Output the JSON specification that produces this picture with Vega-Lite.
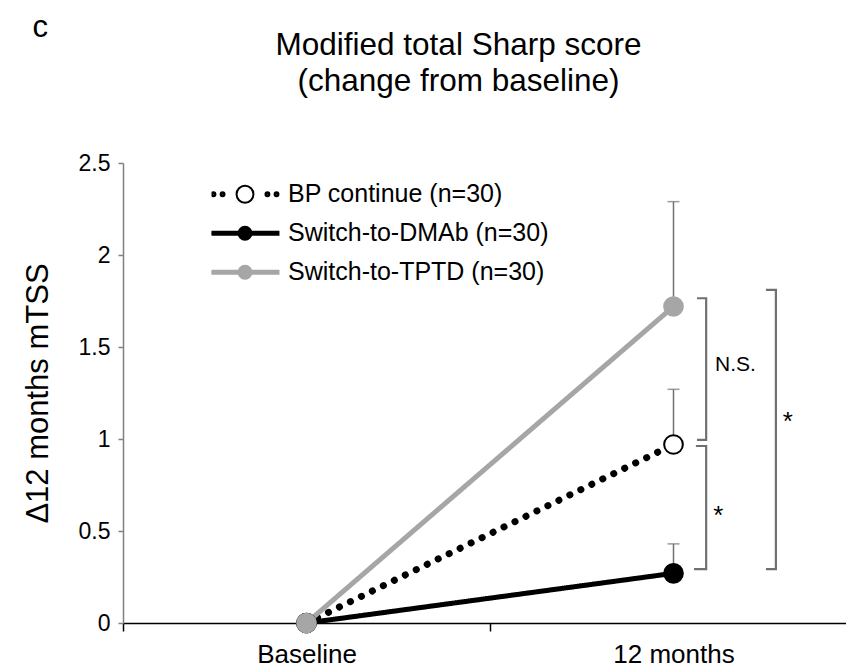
{
  "$schema": "https://vega.github.io/schema/vega-lite/v6.json",
  "autosize": "none",
  "width": 723,
  "height": 460,
  "padding": {"left": 123, "top": 163, "right": 0, "bottom": 44},
  "config": {
    "font": "Liberation Sans",
    "view": {"stroke": null}
  },
  "title": {
    "text": ["Modified total Sharp score", "(change from baseline)"],
    "fontSize": 31.5,
    "fontWeight": "normal",
    "color": "#000000",
    "lineHeight": 35.5,
    "anchor": "middle",
    "dx": -26,
    "offset": -86
  },
  "datasets": {
    "main": [
      {"time": "Baseline", "group": "BP continue (n=30)", "value": 0},
      {"time": "12 months", "group": "BP continue (n=30)", "value": 0.97, "upper": 1.27},
      {"time": "Baseline", "group": "Switch-to-DMAb (n=30)", "value": 0},
      {"time": "12 months", "group": "Switch-to-DMAb (n=30)", "value": 0.27, "upper": 0.43},
      {"time": "Baseline", "group": "Switch-to-TPTD (n=30)", "value": 0},
      {"time": "12 months", "group": "Switch-to-TPTD (n=30)", "value": 1.72, "upper": 2.29}
    ],
    "brackets": [
      {"bracket": "ns", "step": 1, "x": 1.564, "y": 1.765},
      {"bracket": "ns", "step": 2, "x": 1.589, "y": 1.765},
      {"bracket": "ns", "step": 3, "x": 1.589, "y": 0.995},
      {"bracket": "ns", "step": 4, "x": 1.564, "y": 0.995},
      {"bracket": "small", "step": 1, "x": 1.561, "y": 0.962},
      {"bracket": "small", "step": 2, "x": 1.589, "y": 0.962},
      {"bracket": "small", "step": 3, "x": 1.589, "y": 0.293},
      {"bracket": "small", "step": 4, "x": 1.556, "y": 0.293},
      {"bracket": "big", "step": 1, "x": 1.752, "y": 1.81},
      {"bracket": "big", "step": 2, "x": 1.779, "y": 1.81},
      {"bracket": "big", "step": 3, "x": 1.779, "y": 0.293},
      {"bracket": "big", "step": 4, "x": 1.752, "y": 0.293}
    ],
    "marks": [
      {"label": "N.S.", "x": 1.613, "y": 1.371},
      {"label": "*", "x": 1.608, "y": 0.538},
      {"label": "*", "x": 1.798, "y": 1.049}
    ]
  },
  "resolve": {"scale": {"x": "independent"}, "axis": {"x": "independent"}},
  "layer": [
    {
      "data": {"name": "main"},
      "layer": [
        {
          "mark": {"type": "line", "strokeCap": "round"},
          "encoding": {
            "x": {
              "field": "time", "type": "nominal", "sort": ["Baseline", "12 months"],
              "scale": {"type": "band", "range": [0, 734], "paddingInner": 0, "paddingOuter": 0},
              "axis": {
                "title": null, "labelAngle": 0, "tickBand": "extent",
                "labelFontSize": 26, "labelColor": "#000000", "labelPadding": 10,
                "domainColor": "#000000", "domainWidth": 1.5,
                "tickColor": "#000000", "tickWidth": 1.5, "tickSize": 8
              }
            },
            "y": {
              "field": "value", "type": "quantitative",
              "scale": {"domain": [0, 2.5], "nice": false, "zero": false},
              "axis": {
                "values": [0, 0.5, 1, 1.5, 2, 2.5], "format": "~g", "grid": false,
                "labelFontSize": 23, "labelColor": "#000000", "labelPadding": 8,
                "domainColor": "#808080", "domainWidth": 1.5,
                "tickColor": "#808080", "tickWidth": 1.5, "tickSize": 5,
                "title": "Δ12 months mTSS", "titleFontSize": 31, "titleFontWeight": "normal",
                "titleColor": "#000000", "titleAngle": -90, "titleX": -76, "titleY": 230,
                "titleAlign": "center", "titleBaseline": "alphabetic"
              }
            },
            "stroke": {
              "field": "group", "type": "nominal",
              "scale": {
                "domain": ["BP continue (n=30)", "Switch-to-DMAb (n=30)", "Switch-to-TPTD (n=30)"],
                "range": ["#000000", "#000000", "#A6A6A6"]
              },
              "legend": {
                "title": null, "orient": "none", "legendX": 88.5, "legendY": 13,
                "padding": 0, "labelFontSize": 25, "labelColor": "#000000", "labelOffset": 9.5,
                "symbolSize": 4225, "symbolStrokeWidth": 2, "rowPadding": 2, "clipHeight": 36.5, "labelLimit": 400,
                "encode": {
                  "symbols": {
                    "update": {
                      "shape": {"signal": "datum.value === 'BP continue (n=30)' ? 'M-0.91,0C-0.91,0.033,-0.937,0.06,-0.97,0.06C-1.003,0.06,-1.03,0.033,-1.03,0C-1.03,-0.033,-1.003,-0.06,-0.97,-0.06C-0.937,-0.06,-0.91,-0.033,-0.91,0ZM-0.95,0C-0.95,0.011,-0.959,0.02,-0.97,0.02C-0.981,0.02,-0.99,0.011,-0.99,0C-0.99,-0.011,-0.981,-0.02,-0.97,-0.02C-0.959,-0.02,-0.95,-0.011,-0.95,0ZM-0.63,0C-0.63,0.033,-0.657,0.06,-0.69,0.06C-0.723,0.06,-0.75,0.033,-0.75,0C-0.75,-0.033,-0.723,-0.06,-0.69,-0.06C-0.657,-0.06,-0.63,-0.033,-0.63,0ZM-0.67,0C-0.67,0.011,-0.679,0.02,-0.69,0.02C-0.701,0.02,-0.71,0.011,-0.71,0C-0.71,-0.011,-0.701,-0.02,-0.69,-0.02C-0.679,-0.02,-0.67,-0.011,-0.67,0ZM0.75,0C0.75,0.033,0.723,0.06,0.69,0.06C0.657,0.06,0.63,0.033,0.63,0C0.63,-0.033,0.657,-0.06,0.69,-0.06C0.723,-0.06,0.75,-0.033,0.75,0ZM0.71,0C0.71,0.011,0.701,0.02,0.69,0.02C0.679,0.02,0.67,0.011,0.67,0C0.67,-0.011,0.679,-0.02,0.69,-0.02C0.701,-0.02,0.71,-0.011,0.71,0ZM1.03,0C1.03,0.033,1.003,0.06,0.97,0.06C0.937,0.06,0.91,0.033,0.91,0C0.91,-0.033,0.937,-0.06,0.97,-0.06C1.003,-0.06,1.03,-0.033,1.03,0ZM0.99,0C0.99,0.011,0.981,0.02,0.97,0.02C0.959,0.02,0.95,0.011,0.95,0C0.95,-0.011,0.959,-0.02,0.97,-0.02C0.981,-0.02,0.99,-0.011,0.99,0ZM0.26,0C0.26,0.144,0.144,0.26,0,0.26C-0.144,0.26,-0.26,0.144,-0.26,0C-0.26,-0.144,-0.144,-0.26,0,-0.26C0.144,-0.26,0.26,-0.144,0.26,0Z' : 'M-1.03,-0.046L1.03,-0.046L1.03,0.046L-1.03,0.046ZM0.2,0C0.2,0.11,0.11,0.2,0,0.2C-0.11,0.2,-0.2,0.11,-0.2,0C-0.2,-0.11,-0.11,-0.2,0,-0.2C0.11,-0.2,0.2,-0.11,0.2,0Z'"},
                      "fill": {"scale": "fill", "field": "value"},
                      "stroke": {"scale": "stroke", "field": "value"},
                      "strokeWidth": {"value": 2},
                      "size": {"value": 4225},
                      "opacity": {"value": 1}
                    }
                  }
                }
              }
            },
            "strokeDash": {
              "condition": {"test": "datum.group === 'BP continue (n=30)'", "value": [0.1, 12.1]},
              "value": [1, 0]
            },
            "strokeWidth": {
              "condition": {"test": "datum.group === 'BP continue (n=30)'", "value": 7},
              "value": 5
            }
          }
        },
        {
          "transform": [{"filter": "datum.upper != null"}],
          "mark": {"type": "rule", "color": "#707070", "strokeWidth": 1.5},
          "encoding": {
            "x": {"field": "time", "type": "nominal", "sort": ["Baseline", "12 months"]},
            "y": {"field": "value", "type": "quantitative"},
            "y2": {"field": "upper"}
          }
        },
        {
          "transform": [{"filter": "datum.upper != null"}],
          "mark": {"type": "tick", "color": "#707070", "thickness": 1.5, "size": 12, "orient": "horizontal"},
          "encoding": {
            "x": {"field": "time", "type": "nominal", "sort": ["Baseline", "12 months"]},
            "y": {"field": "upper", "type": "quantitative"}
          }
        },
        {
          "mark": {"type": "point", "filled": true, "shape": "circle", "size": 350, "strokeWidth": 2, "opacity": 1},
          "encoding": {
            "x": {"field": "time", "type": "nominal", "sort": ["Baseline", "12 months"]},
            "y": {"field": "value", "type": "quantitative"},
            "stroke": {"field": "group", "type": "nominal"},
            "fill": {
              "field": "group", "type": "nominal",
              "scale": {
                "domain": ["BP continue (n=30)", "Switch-to-DMAb (n=30)", "Switch-to-TPTD (n=30)"],
                "range": ["#FFFFFF", "#000000", "#A6A6A6"]
              },
              "legend": null
            }
          }
        }
      ]
    },
    {
      "data": {"name": "brackets"},
      "layer": [
        {
          "mark": {"type": "line", "color": "#707070", "strokeWidth": 2.2, "strokeJoin": "miter"},
          "encoding": {
            "x": {
              "field": "x", "type": "quantitative",
              "scale": {"domain": [0, 2], "range": [0, 734], "nice": false, "zero": false},
              "axis": {
                "orient": "top", "labels": false, "ticks": false, "domain": false, "grid": false,
                "title": "c", "titleFontSize": 31, "titleFontWeight": "normal", "titleColor": "#000000",
                "titleX": -91, "titleY": -127, "titleAngle": 0, "titleAlign": "left", "titleBaseline": "alphabetic"
              }
            },
            "y": {"field": "y", "type": "quantitative"},
            "detail": {"field": "bracket"},
            "order": {"field": "step", "type": "quantitative"}
          }
        },
        {
          "data": {"name": "marks"},
          "mark": {"type": "text", "align": "left", "baseline": "alphabetic", "color": "#000000"},
          "encoding": {
            "x": {"field": "x", "type": "quantitative"},
            "y": {"field": "y", "type": "quantitative"},
            "text": {"field": "label"},
            "size": {"condition": {"test": "datum.label === 'N.S.'", "value": 21}, "value": 26}
          }
        }
      ]
    }
  ]
}
